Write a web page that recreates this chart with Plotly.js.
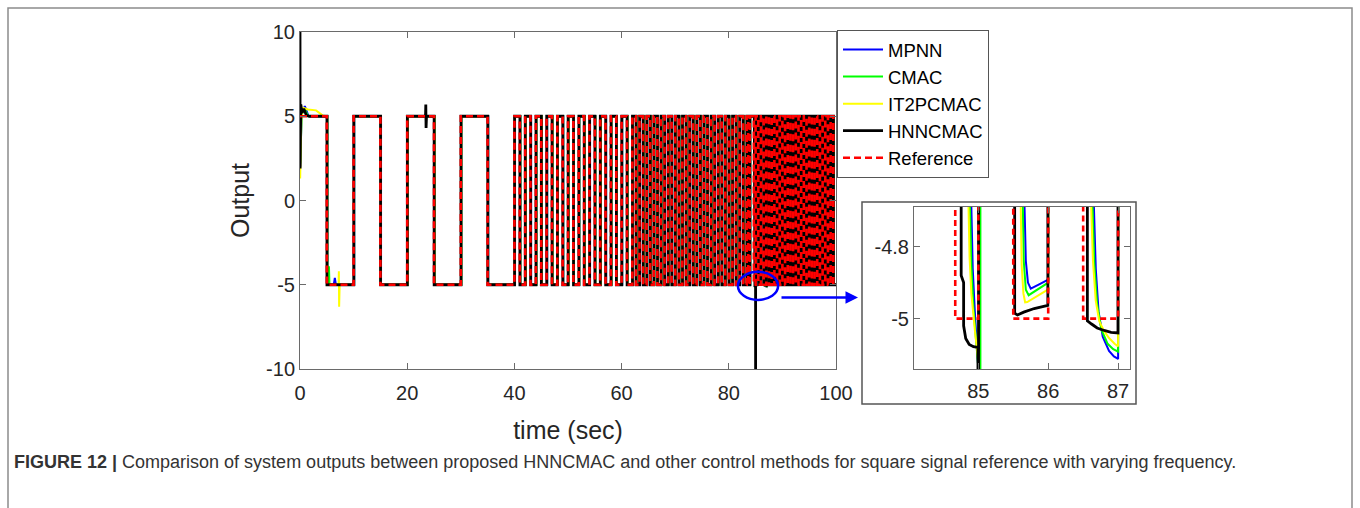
<!DOCTYPE html>
<html>
<head>
<meta charset="utf-8">
<script src="https://cdn.plot.ly/plotly-3.0.1.min.js"></script>
<style>html,body{margin:0;padding:0;background:#fff;}#chart{width:1360px;height:508px;}</style>
</head>
<body>
<div id="chart"></div>
<script>
// ---------------- DATA ----------------
const seriesNames = ["MPNN", "CMAC", "IT2PCMAC", "HNNCMAC", "Reference"];
const xTicks = [0, 20, 40, 60, 80, 100];
const yTicks = [-10, -5, 0, 5, 10];
const yTickText = ["-10", "-5", "0", "5", "10"];
const insetXTicks = [85, 86, 87];
const insetYTicks = [-5, -4.8];
const insetYTickText = ["-5", "-4.8"];

// reference square wave: starts at +5, toggles sign at each switch time (sec)
const refStart = 5;
const refSwitch = [5, 10, 15, 20, 25, 30, 35, 40,
  41, 42, 43, 44, 45, 46, 47, 48, 49, 50, 51, 52, 53, 54, 55, 56, 57, 58, 59, 60, 61, 62,
  62.67, 63.33, 64, 64.67, 65.33, 66, 66.67, 67.33, 68, 68.67, 69.33, 70, 70.67, 71.33, 72,
  72.67, 73.33, 74, 74.67, 75.33, 76, 76.67, 77.33, 78, 78.67, 79.33, 80, 80.67, 81.33, 82,
  82.67, 83.33, 83.62, 83.9, 84.67,
  85, 85.5, 86, 86.5, 87, 87.5, 88, 88.5, 89, 89.5, 90, 90.5, 91, 91.5, 92, 92.5,
  93, 93.5, 94, 94.5, 95, 95.5, 96, 96.5, 97, 97.5, 98, 98.5, 99, 99.5];
const tEnd = 100;

// response delay of each controller at the switches (sec)
const lagMPNN = 0.12, lagCMAC = 0.10, lagIT2 = 0.08, lagHNN = 0.03;

// transient events
const mpnnEvX = [0, 0.05, 0.3, 0.9, 1.6, 6.3, 6.5, 6.7];
const mpnnEvY = [3.0, 2.0, 5.2, 5.6, 5.0, -5.0, -4.6, -5.0];
const cmacEvX = [0, 0.05, 0.3, 0.8, 1.5, 5.35, 5.4, 5.5];
const cmacEvY = [3.0, 2.2, 5.1, 5.5, 5.0, -5.0, -3.9, -5.0];
const it2EvX = [0, 0.03, 0.25, 0.6, 1.5, 3.0, 4.2, 7.2, 7.25, 7.3, 7.4];
const it2EvY = [2.6, 1.3, 4.9, 5.5, 5.4, 5.35, 5.05, -5.0, -4.2, -6.3, -5.0];
const hnnEvX = [0, 0.02, 0.07, 0.15, 0.35, 0.7, 1.2, 1.8, 23.42, 23.47, 23.52, 23.6];
const hnnEvY = [10, 1.9, 4.0, 5.7, 5.2, 5.45, 5.05, 5.0, 5.0, 5.7, 4.3, 5.0];

// detailed responses in the zoomed window 84.6 - 87.1 s
const detailFrom = 84.6, detailTo = 87.1;
const mpnnDetX = [84.89, 84.89, 84.92, 84.95, 84.975, 85.0, 85.02, 85.65, 85.65, 85.68, 85.71, 85.75, 85.87, 86.0, 86.02, 86.64, 86.64, 86.68, 86.72, 86.78, 86.87, 86.94, 87.0, 87.02];
const mpnnDetY = [5, -4.6, -4.86, -4.98, -5.06, -5.14, 5, 5, -4.6, -4.84, -4.9, -4.917, -4.905, -4.892, 5, 5, -4.6, -4.86, -4.98, -5.05, -5.09, -5.105, -5.112, 5];
const cmacDetX = [84.87, 84.87, 84.9, 84.93, 84.96, 84.99, 85.01, 85.03, 85.03, 85.63, 85.63, 85.65, 85.68, 85.72, 85.85, 86.0, 86.02, 86.62, 86.62, 86.66, 86.7, 86.76, 86.85, 86.93, 87.0, 87.02];
const cmacDetY = [5, -4.6, -4.85, -4.97, -5.05, -5.12, -5.16, -5.2, 5, 5, -4.6, -4.84, -4.92, -4.935, -4.918, -4.9, 5, 5, -4.6, -4.85, -4.96, -5.03, -5.07, -5.085, -5.092, 5];
const it2DetX = [84.85, 84.85, 84.875, 84.9, 84.93, 84.957, 84.995, 85.005, 85.02, 85.6, 85.6, 85.62, 85.645, 85.67, 85.7, 85.85, 86.0, 86.02, 86.6, 86.6, 86.64, 86.68, 86.73, 86.8, 86.87, 86.95, 87.0, 87.02];
const it2DetY = [5, -4.6, -4.83, -4.93, -5.0, -5.044, -5.11, -5.13, 5, 5, -4.6, -4.85, -4.93, -4.955, -4.954, -4.937, -4.919, 5, 5, -4.6, -4.84, -4.95, -5.007, -5.035, -5.054, -5.07, -5.077, 5];
const hnnDetX = [84.755, 84.755, 84.79, 84.79, 84.82, 84.87, 84.93, 84.995, 85.0, 85.012, 85.52, 85.52, 85.56, 85.65, 85.8, 85.995, 86.0, 86.56, 86.56, 86.62, 86.7, 86.8, 86.9, 86.998, 87.005];
const hnnDetY = [5, -4.88, -4.9, -5.02, -5.055, -5.072, -5.078, -5.08, -10, 5, 5, -4.985, -4.99, -4.982, -4.972, -4.963, 5, 5, -5.006, -5.015, -5.026, -5.033, -5.038, -5.04, 5];

const captionBold = "FIGURE 12 |";
const captionText = " Comparison of system outputs between proposed HNNCMAC and other control methods for square signal reference with varying frequency.";

// ---------------- BUILD ----------------
function buildReference() {
  const x = [0], y = [refStart];
  let level = refStart;
  refSwitch.forEach(s => { const nx = -level; x.push(s, s); y.push(level, nx); level = nx; });
  x.push(tEnd); y.push(level);
  return {x, y};
}
function buildSeries(lag, evX, evY, detX, detY) {
  const pts = [];
  let level = refStart;
  refSwitch.forEach(s => {
    const nx = -level;
    if (s < detailFrom || s > detailTo) { pts.push([s + lag, level]); pts.push([s + lag, nx]); }
    level = nx;
  });
  evX.forEach((v, i) => pts.push([v, evY[i]]));
  detX.forEach((v, i) => pts.push([v, detY[i]]));
  pts.push([tEnd, level]);
  pts.sort((a, b) => a[0] - b[0]);
  return {x: pts.map(p => p[0]), y: pts.map(p => p[1])};
}

const ref = buildReference();
const sMPNN = buildSeries(lagMPNN, mpnnEvX, mpnnEvY, mpnnDetX, mpnnDetY);
const sCMAC = buildSeries(lagCMAC, cmacEvX, cmacEvY, cmacDetX, cmacDetY);
const sIT2 = buildSeries(lagIT2, it2EvX, it2EvY, it2DetX, it2DetY);
const sHNN = buildSeries(lagHNN, hnnEvX, hnnEvY, hnnDetX, hnnDetY);

const styles = [
  {d: sMPNN, color: "#0000ff", w: 2, dash: "solid"},
  {d: sCMAC, color: "#00ff00", w: 2, dash: "solid"},
  {d: sIT2, color: "#ffff00", w: 2, dash: "solid"},
  {d: sHNN, color: "#000000", w: 2.8, dash: "solid"},
  {d: ref, color: "#ff0000", w: 2.6, dash: "7px,4px"}
];

const traces = [];
styles.forEach((s, i) => {
  traces.push({type: "scatter", mode: "lines", name: seriesNames[i], x: s.d.x, y: s.d.y,
    xaxis: "x", yaxis: "y", line: {color: s.color, width: s.w, dash: s.dash}, hoverinfo: "skip"});
});
styles.forEach((s, i) => {
  traces.push({type: "scatter", mode: "lines", name: seriesNames[i], x: s.d.x, y: s.d.y,
    xaxis: "x2", yaxis: "y2", showlegend: false,
    line: {color: s.color, width: s.w, dash: i === 4 ? "6px,4px" : s.dash}, hoverinfo: "skip"});
});

const W = 1360, H = 508;
const font = "Liberation Sans, Arial, Helvetica, sans-serif";
const axCol = "#6a6a6a";
const tickFont = {family: font, size: 20, color: "#262626"};

const baseAxis = {showline: true, linecolor: axCol, linewidth: 1, mirror: "ticks", ticks: "inside",
  ticklen: 6, tickcolor: axCol, showgrid: false, zeroline: false, tickfont: tickFont, fixedrange: true};

const layout = {
  width: W, height: H,
  margin: {l: 0, r: 0, t: 0, b: 0},
  paper_bgcolor: "#ffffff", plot_bgcolor: "#ffffff",
  font: {family: font, color: "#262626"},
  showlegend: true,
  legend: {x: 837 / W, y: 1 - 30 / H, xanchor: "left", yanchor: "top",
    bgcolor: "#ffffff", bordercolor: "#555555", borderwidth: 1,
    font: {family: font, size: 18.5, color: "#000000"}, itemwidth: 40, tracegroupgap: 0},
  xaxis: Object.assign({}, baseAxis, {domain: [300 / W, 836 / W], range: [0, 100], anchor: "y",
    tickmode: "array", tickvals: xTicks, ticktext: xTicks.map(String), ticklabelstandoff: 6,
    title: {text: "time (sec)", font: {family: font, size: 25, color: "#262626"}, standoff: 18}}),
  yaxis: Object.assign({}, baseAxis, {domain: [1 - 369 / H, 1 - 32 / H], range: [-10, 10], anchor: "x",
    tickmode: "array", tickvals: yTicks, ticktext: yTickText,
    title: {text: "Output", font: {family: font, size: 25, color: "#262626"}, standoff: 9}}),
  xaxis2: Object.assign({}, baseAxis, {domain: [914 / W, 1130 / W], range: [84.08, 87.17], anchor: "y2",
    tickmode: "array", tickvals: insetXTicks, ticktext: insetXTicks.map(String), ticklabelstandoff: 4}),
  yaxis2: Object.assign({}, baseAxis, {domain: [1 - 369 / H, 1 - 207 / H], range: [-5.14, -4.69], anchor: "x2",
    tickmode: "array", tickvals: insetYTicks, ticktext: insetYTickText}),
  shapes: [
    {type: "rect", xref: "paper", yref: "paper", x0: 8 / W, x1: 1352 / W, y0: -0.1, y1: 1 - 8 / H,
      line: {color: "#8c8c8c", width: 1.5}, fillcolor: "rgba(0,0,0,0)", layer: "below"},
    {type: "rect", xref: "paper", yref: "paper", x0: 862 / W, x1: 1136 / W, y0: 1 - 404 / H, y1: 1 - 202 / H,
      line: {color: "#555555", width: 1.5}, fillcolor: "rgba(0,0,0,0)", layer: "below"},
    {type: "circle", xref: "x", yref: "y", x0: 81.7, x1: 89.2, y0: -5.9, y1: -4.23,
      line: {color: "#0000ff", width: 2.5}, fillcolor: "rgba(0,0,0,0)"}
  ],
  annotations: [
    {xref: "paper", yref: "paper", x: 858 / W, y: 1 - 297.5 / H, ax: -78, ay: 0, axref: "pixel", ayref: "pixel",
      text: "", showarrow: true, arrowcolor: "#0000ff", arrowwidth: 2.5, arrowhead: 2, arrowsize: 1},
    {xref: "paper", yref: "paper", x: 12 / W, y: 1 - 462 / H, xanchor: "left", yanchor: "middle",
      showarrow: false, text: "<b>" + captionBold + "</b>" + captionText,
      font: {family: font, size: 18, color: "#333333"}}
  ]
};

Plotly.newPlot("chart", traces, layout, {staticPlot: true, displayModeBar: false});
</script>
</body>
</html>
